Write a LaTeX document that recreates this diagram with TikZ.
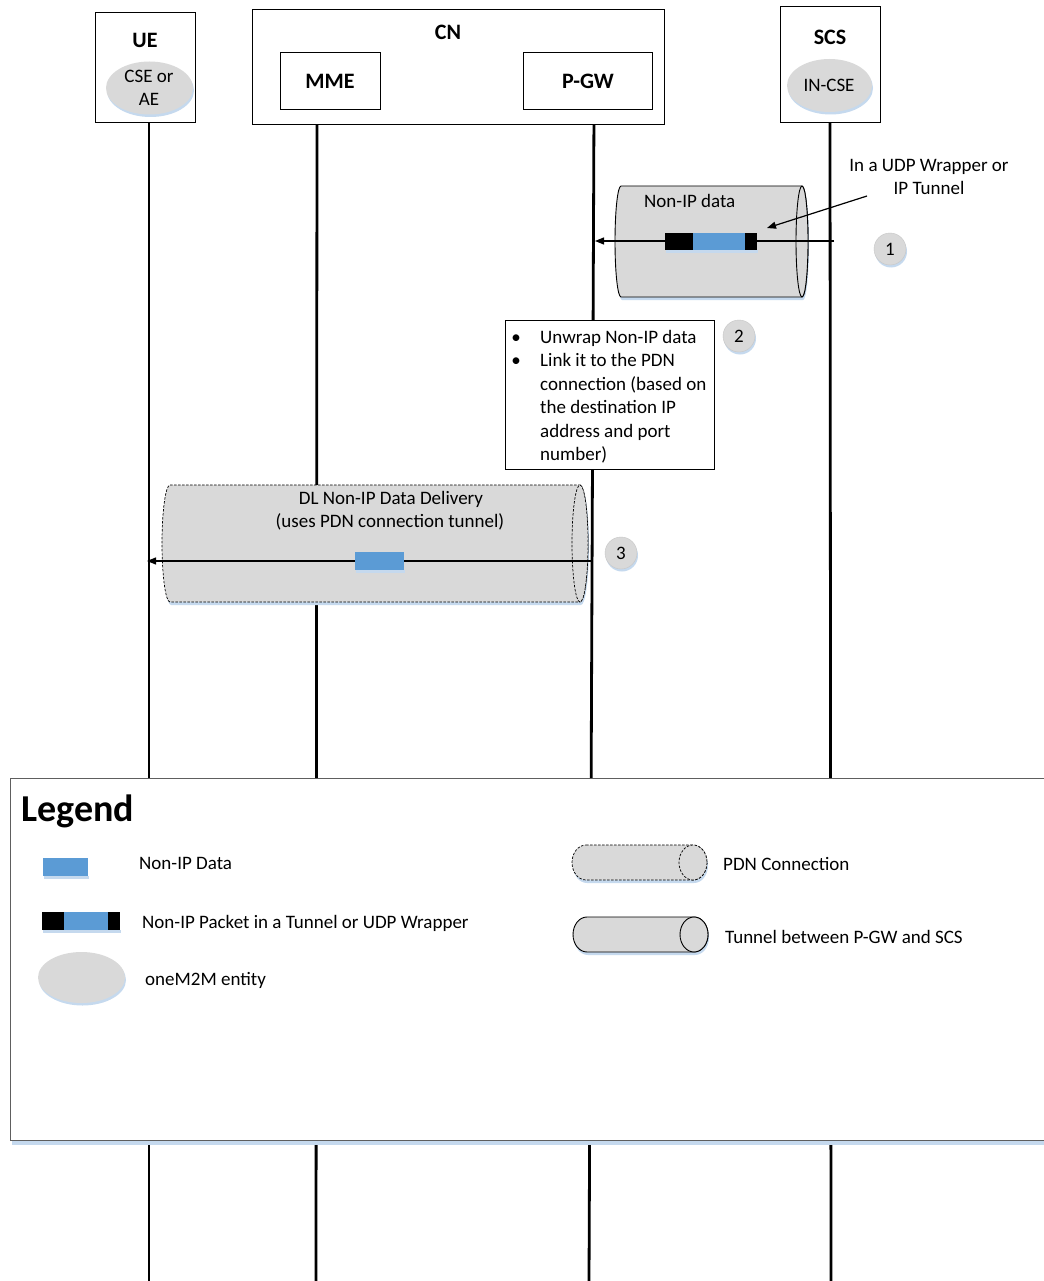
\documentclass[tikz,border=0pt]{standalone}
\usepackage{fontspec}
\setmainfont{Carlito}
\usetikzlibrary{arrows.meta,shapes.geometric,shadows}

\definecolor{tubegray}{HTML}{D9D9D9}
\definecolor{datablue}{HTML}{5B9BD5}
\definecolor{shadeblue}{HTML}{C5D9EE}
\definecolor{framegray}{HTML}{5E5E5E}

\newcommand{\txt}{\fontsize{19}{23}\selectfont}
\newcommand{\hdr}{\fontsize{22}{26}\selectfont\bfseries}

% #1 style, #2 left cap centre x, #3 right end centre x, #4 top y, #5 bottom y, #6 end radius
\newcommand{\drawtube}[6]{%
  \pgfmathsetmacro{\tubery}{(#5-#4)/2}%
  \pgfmathsetmacro{\tubemid}{(#5+#4)/2}%
  \fill[shadeblue] (#2+1,#4+3) -- (#3+1,#4+3)
     arc[start angle=270,end angle=450,x radius=#6,y radius=\tubery]
     -- (#2+1,#5+3)
     arc[start angle=90,end angle=270,x radius=#6,y radius=\tubery] -- cycle;
  \path[#1] (#2,#4) -- (#3,#4)
     arc[start angle=270,end angle=450,x radius=#6,y radius=\tubery]
     -- (#2,#5)
     arc[start angle=90,end angle=270,x radius=#6,y radius=\tubery] -- cycle;
  \path[#1] (#3,\tubemid) ellipse[x radius=#6,y radius=\tubery];
}

\begin{document}
\begin{tikzpicture}[x=1pt,y=-1pt,
  lifeline/.style={line width=2.8pt},
  frame/.style={draw, line width=0.9pt, fill=white, inner sep=0},
  softshadow/.style={drop shadow={shadow xshift=1pt, shadow yshift=-2.5pt, fill=shadeblue, opacity=1}},
  entity/.style={ellipse, fill=tubegray, inner sep=0, softshadow},
  stepmark/.style={circle, fill=tubegray, draw=gray!45, line width=0.4pt, minimum size=32, inner sep=0, font=\txt, softshadow},
  lbl/.style={anchor=base west, inner sep=0, font=\txt},
  clbl/.style={anchor=base, inner sep=0, font=\txt},
  head/.style={anchor=base, inner sep=0, font=\hdr},
  msg/.style={line width=1.2pt, -{Triangle[length=9pt,width=7pt]}},
  tubesolid/.style={draw=black, line width=0.9pt, fill=tubegray},
  tubedashed/.style={draw=black, line width=0.7pt, dash pattern=on 2.5pt off 1.5pt, fill=tubegray},
]
\useasboundingbox (0,0) rectangle (1043,1281);
\fill[white] (0,0) rectangle (1043,1281);

% lifelines
\coordinate (ueTop) at (149,122);  \coordinate (ueBot) at (149,1281);
\coordinate (mmeTop) at (317,109); \coordinate (mmeBot) at (316,1281);
\coordinate (pgwTop) at (594,109); \coordinate (pgwBot) at (589,1281);
\coordinate (scsTop) at (830,122); \coordinate (scsBot) at (831,1281);
\draw[lifeline] (ueTop) -- (ueBot);
\draw[lifeline] (mmeTop) -- (mmeBot);
\draw[lifeline] (pgwTop) -- (pgwBot);
\draw[lifeline] (scsTop) -- (scsBot);

% entities
\node[frame, minimum width=100, minimum height=110] (ue) at (145,67) {};
\node[head] (ueT) at (145,48) {UE};
\node[entity, minimum width=87, minimum height=53] (cse) at (149.5,88) {};
\node[clbl] (cseA) at (149,83) {CSE or};
\node[clbl] (cseB) at (149,106) {AE};

\node[frame, minimum width=412, minimum height=115] (cn) at (458,66.5) {};
\node[head] (cnT) at (448,40) {CN};
\node[frame, minimum width=100, minimum height=57] (mme) at (330,80.5) {};
\node[head] (mmeT) at (330,89) {MME};
\node[frame, minimum width=129, minimum height=57] (pgw) at (587.5,80.5) {};
\node[head] (pgwT) at (588,89) {P-GW};

\node[frame, minimum width=100, minimum height=116] (scs) at (830,64) {};
\node[head] (scsT) at (830,45) {SCS};
\node[entity, minimum width=85, minimum height=53] (incse) at (829.5,85.5) {};
\node[clbl] (incseT) at (829,92) {IN-CSE};

% step 1: tunnel between SCS and P-GW
\drawtube{tubesolid}{621}{802}{186}{297}{6}
\node[lbl] (nipT) at (644,208) {Non-IP data};
\coordinate (m1s) at (834,241);
\coordinate (m1e) at (595,241);
\draw[msg] (m1s) -- (m1e);
\fill[shadeblue] (666,250) rectangle (758,252.5);
\fill[black] (665,233) rectangle (693,250);
\fill[datablue] (693,233) rectangle (745,250);
\fill[black] (745,233) rectangle (757,250);
\node[clbl] (wrapA) at (929,172) {In a UDP Wrapper or};
\node[clbl] (wrapB) at (929,195) {IP Tunnel};
\coordinate (wrapS) at (867,196);
\coordinate (wrapE) at (767,228);
\draw[msg] (wrapS) -- (wrapE);
\node[stepmark] (s1) at (890,249) {1};

% step 2: P-GW processing
\node[frame, minimum width=209, minimum height=149] (note) at (609.5,394.5) {};
\node[clbl] (b1) at (516,343) {\textbullet};
\node[clbl] (b2) at (516,366) {\textbullet};
\node[lbl] (n1) at (540,343) {Unwrap Non-IP data};
\node[lbl] (n2) at (540,366) {Link it to the PDN};
\node[lbl] (n3) at (540,390) {connection (based on};
\node[lbl] (n4) at (540,413) {the destination IP};
\node[lbl] (n5) at (540,437) {address and port};
\node[lbl] (n6) at (540,460) {number)};
\node[stepmark] (s2) at (739,336) {2};

% step 3: delivery over the PDN connection
\drawtube{tubedashed}{170}{580}{485}{602}{8}
\node[clbl] (dlA) at (391,504) {DL Non-IP Data Delivery};
\node[clbl] (dlB) at (390,527) {(uses PDN connection tunnel)};
\coordinate (m3s) at (593,561);
\coordinate (m3e) at (147,561);
\draw[msg] (m3s) -- (m3e);
\fill[shadeblue] (356,570) rectangle (405,572.5);
\fill[datablue] (355,552) rectangle (404,570);
\node[stepmark] (s3) at (621,553) {3};

% legend
\fill[shadeblue] (12,1140) rectangle (1050,1145);
\node[draw=framegray, line width=1pt, fill=white, inner sep=0,
      minimum width=1040, minimum height=362] (legend) at (530,959) {};
\node[anchor=base west, inner sep=0, font=\fontsize{38}{44}\selectfont\bfseries] (legT) at (21,821) {Legend};

\fill[shadeblue] (44,876) rectangle (89,878.5);
\fill[datablue] (43,858) rectangle (88,876);
\node[lbl] (lg1) at (139,869) {Non-IP Data};

\fill[shadeblue] (43,930) rectangle (121,932.5);
\fill[black] (42,912) rectangle (64,930);
\fill[datablue] (64,912) rectangle (108,930);
\fill[black] (108,912) rectangle (120,930);
\node[lbl] (lg2) at (142,928) {Non-IP Packet in a Tunnel or UDP Wrapper};

\node[entity, minimum width=87, minimum height=51] (lgEnt) at (81.5,977.5) {};
\node[lbl] (lg3) at (145,985) {oneM2M entity};

\drawtube{tubedashed}{586}{693}{845}{880}{14}
\node[lbl] (lg4) at (723,870) {PDN Connection};
\drawtube{tubesolid}{587}{694}{917}{952}{14}
\node[lbl] (lg5) at (725,943) {Tunnel between P-GW and SCS};
\end{tikzpicture}
\end{document}
